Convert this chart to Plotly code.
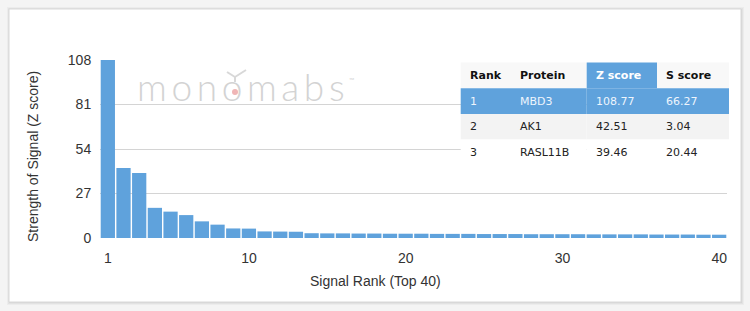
import plotly.graph_objects as go

# ---------------- data ----------------
ranks = list(range(1, 41))
z_scores = [108.77, 42.51, 39.46, 18.3, 16.0, 13.9, 10.1, 8.1, 5.8, 5.7,
            4.0, 3.9, 3.8, 2.9, 2.8, 2.8, 2.7, 2.7, 2.6, 2.6,
            2.6, 2.5, 2.5, 2.5, 2.4, 2.4, 2.4, 2.3, 2.3, 2.3,
            2.3, 2.2, 2.2, 2.2, 2.2, 2.1, 2.1, 2.1, 2.0, 2.0]
x_tick_vals = [1, 10, 20, 30, 40]
y_tick_vals = [0, 27, 54, 81, 108]

table_header = ["Rank", "Protein", "Z score", "S score"]
table_rank = ["1", "2", "3"]
table_protein = ["MBD3", "AK1", "RASL11B"]
table_z = ["108.77", "42.51", "39.46"]
table_s = ["66.27", "3.04", "20.44"]

# ---------------- geometry helpers ----------------
W, H = 750, 311
L, R, T, B = 100, 23, 60, 73
PW, PH = W - L - R, H - T - B


def px(x):
    return (x - L) / PW


def py(y):
    return (H - B - y) / PH


BLUE = "#5fa2dc"

fig = go.Figure()
fig.add_trace(go.Bar(x=ranks, y=z_scores, marker=dict(color=BLUE, line=dict(width=0)),
                     hoverinfo="skip"))

shapes = []
annotations = []

# card shadow + card
for i, a in enumerate([0.03, 0.04, 0.05]):
    o = 3 - i
    shapes.append(dict(type="rect", xref="paper", yref="paper", layer="below",
                       x0=px(9 - o + 1), x1=px(741 + o), y0=py(302 + o), y1=py(9 - o + 1),
                       line=dict(width=0), fillcolor=f"rgba(0,0,0,{a})"))
shapes.append(dict(type="rect", xref="paper", yref="paper", layer="below",
                   x0=px(9), x1=px(741), y0=py(302), y1=py(9),
                   line=dict(width=1, color="#d9d9d9"), fillcolor="white"))

# watermark logo
logo = "\u2009".join("monomabs")
annotations.append(dict(xref="paper", yref="paper", x=px(135), y=py(86), text=logo,
                        showarrow=False, xanchor="left", yanchor="middle",
                        font=dict(family="Lato", size=37, color="#d3d3d3", weight=300)))
annotations.append(dict(xref="paper", yref="paper", x=px(351), y=py(80), text="™",
                        showarrow=False, xanchor="center", yanchor="middle",
                        font=dict(family="Lato", size=7, color="#d3d3d3")))
shapes.append(dict(type="circle", xref="paper", yref="paper", layer="above",
                   x0=px(232), x1=px(238), y0=py(95), y1=py(89),
                   fillcolor="#f0b5b5", line=dict(width=0)))
for (xa, ya, xb, yb) in [(235, 82, 235, 77), (235, 77, 227, 72), (235, 77, 246, 70)]:
    shapes.append(dict(type="line", xref="paper", yref="paper", layer="above",
                       x0=px(xa), y0=py(ya), x1=px(xb), y1=py(yb),
                       line=dict(color="#d8d8d8", width=2)))

# table
row_edges = [62.5, 88.3, 114, 139.5, 165]
col_edges = [460.7, 511, 586.7, 657, 729]
text_x = [467.5, 518, 594, 664]
rows = [table_header] + [list(r) for r in zip(table_rank, table_protein, table_z, table_s)]
for ri, row in enumerate(rows):
    for ci, txt in enumerate(row):
        if ri == 0:
            fill = BLUE if ci == 2 else "#f8f8f8"
            color = "white" if ci == 2 else "#111111"
            bold = True
        elif ri == 1:
            fill, color, bold = BLUE, "#eef5fc", False
        elif ri == 2:
            fill, color, bold = "#f3f3f3", "#222222", False
        else:
            fill, color, bold = "white", "#222222", False
        shapes.append(dict(type="rect", xref="paper", yref="paper", layer="above",
                           x0=px(col_edges[ci]), x1=px(col_edges[ci + 1]),
                           y0=py(row_edges[ri + 1]), y1=py(row_edges[ri]),
                           line=dict(width=0), fillcolor=fill))
        annotations.append(dict(xref="paper", yref="paper", x=px(text_x[ci]),
                                y=py((row_edges[ri] + row_edges[ri + 1]) / 2),
                                text=f"<b>{txt}</b>" if bold else txt, showarrow=False,
                                xanchor="left", yanchor="middle",
                                font=dict(family="DejaVu Sans", size=11, color=color)))

# axis titles (centered on card)
annotations.append(dict(xref="paper", yref="paper", x=px(375), y=py(281),
                        text="Signal Rank (Top 40)", showarrow=False,
                        xanchor="center", yanchor="middle",
                        font=dict(family="Liberation Sans", size=14, color="#333333")))
annotations.append(dict(xref="paper", yref="paper", x=px(33), y=py(157),
                        text="Strength of Signal (Z score)", showarrow=False, textangle=-90,
                        xanchor="center", yanchor="middle",
                        font=dict(family="Liberation Sans", size=14, color="#333333")))

fig.update_layout(
    width=W, height=H,
    margin=dict(l=L, r=R, t=T, b=B),
    paper_bgcolor="#f4f4f4",
    plot_bgcolor="rgba(0,0,0,0)",
    bargap=0.09,
    showlegend=False,
    shapes=shapes,
    annotations=annotations,
    xaxis=dict(range=[0.5, 40.5], tickvals=x_tick_vals, showgrid=False, zeroline=False,
               showline=False, ticks="outside", ticklen=7, tickcolor="rgba(0,0,0,0)",
               tickfont=dict(family="Liberation Sans", size=14, color="#333333")),
    yaxis=dict(range=[0, 108], tickvals=y_tick_vals, showgrid=True, gridcolor="#d4d4d4",
               gridwidth=1, zeroline=False, showline=False, ticks="outside", ticklen=5,
               tickcolor="rgba(0,0,0,0)",
               tickfont=dict(family="Liberation Sans", size=14, color="#333333")),
)

fig.write_html("out.html")
